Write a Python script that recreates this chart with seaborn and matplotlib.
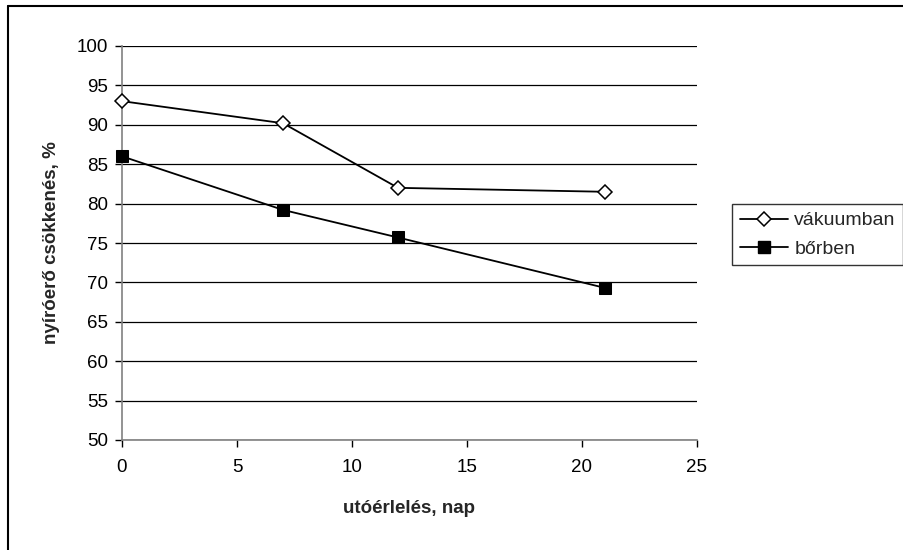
import matplotlib
matplotlib.use("Agg")
import matplotlib.pyplot as plt
import seaborn as sns
import pandas as pd
from matplotlib.lines import Line2D

days = [0, 7, 12, 21]
vakuumban = [93.0, 90.2, 82.0, 81.5]
borben = [86.0, 79.2, 75.7, 69.3]
series_names = ["vákuumban", "bőrben"]
x_ticks = [0, 5, 10, 15, 20, 25]
y_ticks = [50, 55, 60, 65, 70, 75, 80, 85, 90, 95, 100]

df = pd.DataFrame({
    "nap": days * 2,
    "ertek": vakuumban + borben,
    "sor": [series_names[0]] * len(days) + [series_names[1]] * len(days),
})

sns.set_theme(style="white")
plt.rcParams["font.family"] = ["Liberation Sans", "DejaVu Sans"]

fig = plt.figure(figsize=(9.04, 5.5), dpi=100)
ax = fig.add_axes([122 / 904, 1 - 440 / 550, (697 - 122) / 904, (440 - 46) / 550])

for yv in y_ticks:
    ax.axhline(yv, color="black", lw=0.9, zorder=0)

sns.lineplot(data=df, x="nap", y="ertek", hue="sor", style="sor",
             markers={"vákuumban": "D", "bőrben": "s"}, dashes=False,
             palette={"vákuumban": "black", "bőrben": "black"},
             lw=1.3, ax=ax, legend=False, zorder=3)
lines = ax.get_lines()[-2:]
lines[0].set_markerfacecolor("white"); lines[0].set_markeredgecolor("black")
lines[0].set_markersize(7); lines[0].set_markeredgewidth(1.1)
lines[1].set_markerfacecolor("black"); lines[1].set_markeredgecolor("black")
lines[1].set_markersize(8)
for ln in lines:
    ln.set_clip_on(False)

ax.set_xlim(0, 25)
ax.set_ylim(50, 100)
ax.set_xticks(x_ticks)
ax.set_yticks(y_ticks)
ax.tick_params(axis="both", labelsize=13.5, colors="black", length=5, width=1,
               direction="out", bottom=True, left=True)
ax.tick_params(axis="x", pad=9)
ax.tick_params(axis="y", pad=5)
for t in ax.get_xticklines() + ax.get_yticklines():
    t.set_color("#808080")
for s in ["top", "right"]:
    ax.spines[s].set_visible(False)
for s in ["left", "bottom"]:
    ax.spines[s].set_color("#808080")
    ax.spines[s].set_linewidth(1.2)

ax.set_xlabel("utóérlelés, nap", fontsize=13.5, fontweight="bold", labelpad=17)
ax.set_ylabel("nyíróerő csökkenés, %", fontsize=13.5, fontweight="bold", labelpad=12)

handles = [
    Line2D([], [], color="black", lw=1.3, marker="D", markersize=7,
           markerfacecolor="white", markeredgecolor="black", markeredgewidth=1.1),
    Line2D([], [], color="black", lw=1.3, marker="s", markersize=8,
           markerfacecolor="black"),
]
leg = fig.legend(handles, series_names, loc="upper left",
                 bbox_to_anchor=(732 / 904, 1 - 204 / 550),
                 frameon=True, fancybox=False, fontsize=14,
                 handlelength=2.5, handletextpad=0.3, borderpad=0.4,
                 labelspacing=0.55, borderaxespad=0)
leg.get_frame().set_edgecolor("black")
leg.get_frame().set_linewidth(1.0)

fig.add_artist(Line2D([8 / 904, 8 / 904], [0, 1 - 6 / 550], color="black", lw=1.5,
                      transform=fig.transFigure))
fig.add_artist(Line2D([8 / 904, 1], [1 - 6 / 550, 1 - 6 / 550], color="black", lw=1.5,
                      transform=fig.transFigure))

fig.savefig("out.png", dpi=100)
